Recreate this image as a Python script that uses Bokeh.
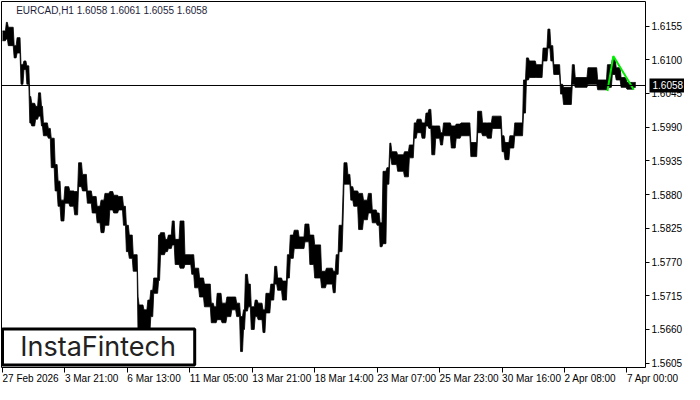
from bokeh.plotting import figure
from bokeh.models import FixedTicker, Label, Range1d, PrintfTickFormatter, LinearAxis
from bokeh.embed import file_html
from bokeh.resources import INLINE

# ---- data (EURCAD H1), hour index from 27 Feb 2026 ----
seg_hour = [0, 4, 6, 12, 15, 19, 22, 25, 28, 30, 34, 37, 40, 42, 47, 50, 54, 57, 60, 64,
            69, 74, 78, 82, 87, 92, 97, 101, 105, 110, 114, 119, 124, 127, 130, 134, 139, 140, 145, 149,
            152, 155, 160, 162, 167, 170, 174, 177, 182, 187, 194, 197, 202, 207, 214, 217, 220, 225, 230, 235,
            240, 244, 247, 249, 252, 255, 259, 262, 267, 270, 275, 279, 282, 287, 292, 295, 299, 304, 310, 315,
            320, 327, 332, 339, 342, 345, 349, 350, 354, 357, 360, 365, 370, 375, 379, 384, 387, 390, 394, 397,
            399, 405, 412, 417, 422, 425, 430, 434, 437, 440, 444, 449, 452, 460, 465, 470, 480, 487, 492, 497,
            502, 512, 515, 520, 525, 534, 537, 540, 547, 554, 559, 562, 565, 572, 575, 584, 587, 600, 610, 620,
            625, 629, 634, 640, 647]
seg_end = 650
seg_high = [1.6147, 1.6161, 1.6153, 1.6123, 1.6136, 1.6092, 1.6098, 1.6090, 1.6040, 1.6029, 1.6024, 1.6046, 1.6024, 1.5997, 1.5988, 1.5972, 1.5929, 1.5902, 1.5871, 1.5893,
            1.5886, 1.5885, 1.5932, 1.5913, 1.5886, 1.5877, 1.5861, 1.5871, 1.5882, 1.5885, 1.5879, 1.5877, 1.5861, 1.5830, 1.5814, 1.5782, 1.5713, 1.5700, 1.5692, 1.5708,
            1.5724, 1.5744, 1.5814, 1.5818, 1.5807, 1.5814, 1.5837, 1.5807, 1.5837, 1.5782, 1.5782, 1.5760, 1.5744, 1.5734, 1.5703, 1.5697, 1.5719, 1.5703, 1.5713, 1.5713,
            1.5703, 1.5681, 1.5692, 1.5750, 1.5734, 1.5697, 1.5708, 1.5703, 1.5692, 1.5719, 1.5734, 1.5763, 1.5744, 1.5739, 1.5782, 1.5814, 1.5822, 1.5811, 1.5832, 1.5814,
            1.5798, 1.5755, 1.5760, 1.5755, 1.5782, 1.5830, 1.5882, 1.5932, 1.5913, 1.5893, 1.5886, 1.5882, 1.5871, 1.5882, 1.5855, 1.5850, 1.5834, 1.5918, 1.5924, 1.5964,
            1.5950, 1.5945, 1.5950, 1.5961, 1.5997, 1.6003, 1.5997, 1.6013, 1.6019, 1.5992, 1.5992, 1.5981, 1.5997, 1.5992, 1.5995, 1.5997, 1.5965, 1.6016, 1.5997, 1.5997,
            1.6008, 1.5976, 1.5965, 1.5976, 1.5997, 1.6067, 1.6103, 1.6098, 1.6092, 1.6119, 1.6150, 1.6123, 1.6092, 1.6060, 1.6055, 1.6092, 1.6071, 1.6087, 1.6067, 1.6092,
            1.6100, 1.6087, 1.6071, 1.6063, 1.6063]
seg_low = [1.6131, 1.6134, 1.6123, 1.6103, 1.6111, 1.6060, 1.6084, 1.6060, 1.5997, 1.5992, 1.6003, 1.6008, 1.5992, 1.5976, 1.5972, 1.5924, 1.5886, 1.5861, 1.5837, 1.5866,
           1.5861, 1.5847, 1.5893, 1.5886, 1.5866, 1.5850, 1.5834, 1.5818, 1.5830, 1.5855, 1.5850, 1.5855, 1.5830, 1.5787, 1.5776, 1.5755, 1.5644, 1.5652, 1.5644, 1.5652,
           1.5681, 1.5719, 1.5740, 1.5782, 1.5787, 1.5792, 1.5798, 1.5766, 1.5760, 1.5766, 1.5750, 1.5728, 1.5713, 1.5697, 1.5671, 1.5671, 1.5676, 1.5671, 1.5681, 1.5692,
           1.5681, 1.5624, 1.5660, 1.5690, 1.5697, 1.5660, 1.5681, 1.5676, 1.5655, 1.5687, 1.5708, 1.5734, 1.5724, 1.5708, 1.5744, 1.5776, 1.5792, 1.5792, 1.5803, 1.5766,
           1.5744, 1.5728, 1.5734, 1.5720, 1.5750, 1.5787, 1.5834, 1.5897, 1.5897, 1.5871, 1.5861, 1.5823, 1.5839, 1.5850, 1.5834, 1.5830, 1.5795, 1.5800, 1.5897, 1.5940,
           1.5929, 1.5918, 1.5909, 1.5940, 1.5972, 1.5981, 1.5972, 1.5992, 1.5988, 1.5945, 1.5972, 1.5961, 1.5976, 1.5956, 1.5972, 1.5976, 1.5942, 1.5981, 1.5976, 1.5972,
           1.5988, 1.5950, 1.5937, 1.5956, 1.5976, 1.6013, 1.6067, 1.6071, 1.6071, 1.6098, 1.6119, 1.6098, 1.6076, 1.6044, 1.6027, 1.6060, 1.6055, 1.6060, 1.6051, 1.6055,
           1.6076, 1.6067, 1.6055, 1.6052, 1.6055]

pattern_hour = [620, 626, 647]
pattern_price = [1.6049, 1.6106, 1.6051]

last_price = 1.6058
title_text = "EURCAD,H1  1.6058 1.6061 1.6055 1.6058"

x_tick_hours = [0, 64, 128, 192, 256, 320, 384, 448, 512, 576, 640]
x_tick_labels = ["27 Feb 2026", "3 Mar 21:00", "6 Mar 13:00", "11 Mar 05:00", "13 Mar 21:00",
                 "18 Mar 14:00", "23 Mar 07:00", "25 Mar 23:00", "30 Mar 16:00", "2 Apr 08:00", "7 Apr 00:00"]
y_ticks = [1.5605, 1.5660, 1.5715, 1.5770, 1.5825, 1.5880, 1.5935, 1.5990, 1.6045, 1.6100, 1.6155]

FONT = "Liberation Sans"
H0, H1 = -1, 659          # visible hours of the chart area
Y0, Y1 = 1.5598, 1.6195   # visible prices of the chart area

W, H = 684, 384
chart_w, chart_h = 644, 366
pxh = chart_w / (H1 - H0)          # pixels per hour
pyp = chart_h / (Y1 - Y0)          # pixels per price unit
xs0 = H0 - 1 / pxh
ys0 = Y0 - 17 / pyp

p = figure(width=W, height=H, output_backend="svg", toolbar_location=None,
           x_range=Range1d(xs0, xs0 + W / pxh), y_range=Range1d(ys0, ys0 + H / pyp),
           y_axis_location="right",
           min_border_left=0, min_border_top=0, min_border_right=0, min_border_bottom=0)
p.xgrid.visible = False
p.ygrid.visible = False
p.outline_line_color = None
p.background_fill_color = "white"
p.border_fill_color = "white"

# price band: each segment's high/low joined into a continuous jagged band
rights = seg_hour[1:] + [seg_end]
xs, hs, ls = [], [], []
for h0, h1, hi, lo in zip(seg_hour, rights, seg_high, seg_low):
    xs += [h0, h1 - 1]
    hs += [hi, hi]
    ls += [lo, lo]
p.varea(x=xs, y1=ls, y2=hs, fill_color="black")
p.line(xs, hs, line_color="black", line_width=0.8)
p.line(xs, ls, line_color="black", line_width=0.8)

p.line(pattern_hour, pattern_price, line_color="#00ee00", line_width=2)

# bid line across the chart area
p.line([H0, H1], [last_price, last_price], line_color="black", line_width=1)


def style_axis(ax):
    ax.major_tick_in = 0
    ax.minor_tick_out = 0
    ax.minor_tick_in = 0
    ax.axis_line_color = "black"
    ax.major_tick_line_color = "black"
    ax.major_label_text_font = FONT
    ax.major_label_text_font_size = "10px"
    ax.major_label_text_color = "black"


# bottom time axis (ticks only; labels are left-aligned texts below)
xa = p.xaxis[0]
style_axis(xa)
xa.fixed_location = Y0
xa.bounds = (H0, H1)
xa.ticker = FixedTicker(ticks=x_tick_hours)
xa.major_label_overrides = {h: "" for h in x_tick_hours}
xa.major_tick_out = 5
xa.major_label_text_font_size = "1px"

for h, s in zip(x_tick_hours, x_tick_labels):
    p.add_layout(Label(x=h, y=Y0 - 5 / pyp, text=s, text_font=FONT, text_font_size="10px",
                       text_color="black", text_align="left", text_baseline="top"))

# right price axis
ya = p.yaxis[0]
style_axis(ya)
ya.fixed_location = H1
ya.bounds = (Y0, Y1)
ya.ticker = FixedTicker(ticks=y_ticks)
ya.formatter = PrintfTickFormatter(format="%.4f")
ya.major_tick_out = 4
ya.major_label_standoff = 2

# top and left frame lines
for side, loc, bnd in (("above", Y1, (H0, H1)), ("left", H0, (Y0, Y1))):
    ax = LinearAxis(fixed_location=loc, bounds=bnd, ticker=FixedTicker(ticks=[]))
    style_axis(ax)
    ax.major_tick_out = 0
    ax.major_label_text_font_size = "1px"
    p.add_layout(ax, side)

# title inside chart
p.add_layout(Label(x=14, y=1.6181, text=title_text, text_font=FONT, text_font_size="10px",
                   text_color="#1e1e3a", text_baseline="middle"))

# current price box on the axis
p.add_layout(Label(x=H1, y=last_price, x_offset=4, text="1.6058", text_font=FONT,
                   text_font_size="10px", text_color="white", text_baseline="middle",
                   background_fill_color="black", padding=3))

# logo box
p.quad(left=[0], right=[197], top=[1.5661], bottom=[1.5602], fill_color="white",
       line_color="black", line_width=3)
p.add_layout(Label(x=98, y=1.56315, text="InstaFintech", text_font="Inter", text_font_size="27px",
                   text_color="#222222", text_align="center", text_baseline="middle"))

open("out.html", "w").write(file_html(p, INLINE))
